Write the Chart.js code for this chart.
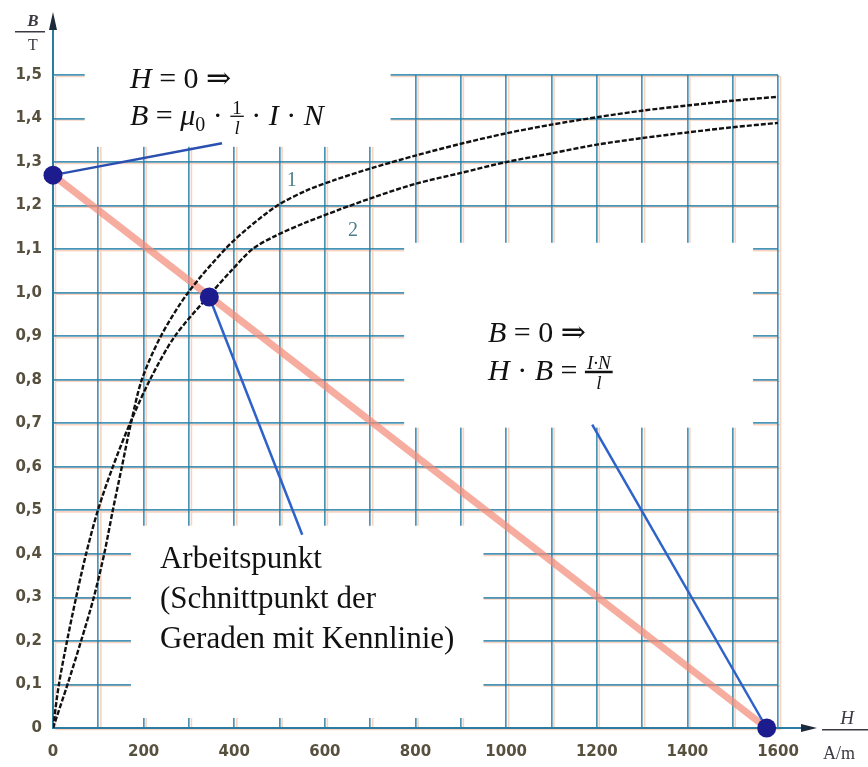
<!DOCTYPE html>
<html>
<head>
<meta charset="utf-8">
<title>B-H Kennlinie mit Arbeitsgerade</title>
<script src="https://cdn.jsdelivr.net/npm/chart.js@4.4.1/dist/chart.umd.min.js"></script>
<style>
  html, body { margin: 0; padding: 0; background: #fff; }
  #chart { display: block; }
</style>
</head>
<body>
<canvas id="chart" width="868" height="767"></canvas>
<script>
// magnetisation curves, H in A/m, B in T
const H_CURVE1 = [0, 32, 62, 90, 113, 132, 152, 172, 196, 238, 298, 380, 432, 495, 560, 625, 700, 800, 900, 1000, 1100, 1200, 1300, 1400, 1500, 1600];
const B_CURVE1 = [0, 0.1, 0.2, 0.3, 0.4, 0.5, 0.6, 0.7, 0.8, 0.9, 1.0, 1.1, 1.15, 1.2, 1.235, 1.26, 1.285, 1.315, 1.342, 1.366, 1.386, 1.403, 1.418, 1.43, 1.441, 1.45];
const H_CURVE2 = [0, 13, 31, 51, 73, 99, 132, 170, 214, 269, 350, 393, 440, 490, 555, 630, 710, 800, 900, 1000, 1100, 1200, 1300, 1400, 1500, 1600];
const B_CURVE2 = [0, 0.1, 0.2, 0.3, 0.4, 0.5, 0.6, 0.7, 0.8, 0.9, 1.0, 1.05, 1.1, 1.13, 1.16, 1.19, 1.22, 1.25, 1.275, 1.3, 1.32, 1.34, 1.355, 1.368, 1.38, 1.39];

// load line (Arbeitsgerade) and its marked points
const LOAD_H = [0, 1575];
const LOAD_B = [1.27, 0];
const POINT_H = [0, 345, 1575];
const POINT_B = [1.27, 0.99, 0];

// pointer lines from the notes to the points
const PTR_TOP_H = [0, 373];
const PTR_TOP_B = [1.27, 1.343];
const PTR_WORK_H = [345, 550];
const PTR_WORK_B = [0.99, 0.444];
const PTR_RIGHT_H = [1190, 1575];
const PTR_RIGHT_B = [0.697, 0];

// tick labels
const X_LABELS = ['0', '200', '400', '600', '800', '1000', '1200', '1400', '1600'];
const Y_LABELS = ['0', '0,1', '0,2', '0,3', '0,4', '0,5', '0,6', '0,7', '0,8', '0,9', '1,0', '1,1', '1,2', '1,3', '1,4', '1,5'];

const SERIF = '"Liberation Serif", "DejaVu Serif", serif';
const GRID = 'rgba(40, 130, 172, 0.85)';
const AXIS = '#2a7da2';
const TICK_COLOR = '#57503f';

const pts = (xs, ys) => xs.map((x, i) => ({ x, y: ys[i] }));

// draws a row of text runs (italic, subscript, small fraction)
function drawRuns(ctx, x, y, parts, size) {
  ctx.textBaseline = 'alphabetic';
  ctx.textAlign = 'left';
  ctx.fillStyle = '#111';
  parts.forEach((p) => {
    if (p.frac) {
      const fs = Math.round(size * 0.62);
      ctx.font = (p.i ? 'italic ' : '') + fs + 'px ' + SERIF;
      const wn = ctx.measureText(p.frac[0]).width;
      ctx.font = 'italic ' + fs + 'px ' + SERIF;
      const wd = ctx.measureText(p.frac[1]).width;
      const w = Math.max(wn, wd) + 4;
      ctx.font = (p.i ? 'italic ' : '') + fs + 'px ' + SERIF;
      ctx.fillText(p.frac[0], x + (w - wn) / 2, y - size * 0.36);
      ctx.font = 'italic ' + fs + 'px ' + SERIF;
      ctx.fillText(p.frac[1], x + (w - wd) / 2, y + size * 0.3);
      ctx.fillRect(x, y - size * 0.3, w, p.bar || 1.3);
      x += w;
      return;
    }
    const s = Math.round(size * (p.s || 1));
    ctx.font = (p.i ? 'italic ' : '') + s + 'px ' + SERIF;
    ctx.fillText(p.t, x, y + (p.dy || 0) * size);
    x += ctx.measureText(p.t).width;
  });
}

const paperPlugin = {
  id: 'paper',
  beforeDraw(chart) {
    // orange misprint of the grid, slightly shifted
    const { ctx, chartArea: a, scales: { x, y } } = chart;
    ctx.save();
    ctx.strokeStyle = 'rgba(245, 155, 115, 0.45)';
    ctx.lineWidth = 1.6;
    ctx.beginPath();
    x.ticks.forEach((t) => {
      const px = x.getPixelForValue(t.value) + 2.5;
      ctx.moveTo(px, a.top + 1.5); ctx.lineTo(px, a.bottom + 1.5);
    });
    y.ticks.forEach((t) => {
      const py = y.getPixelForValue(t.value) + 1.5;
      ctx.moveTo(a.left + 2.5, py); ctx.lineTo(a.right + 2.5, py);
    });
    ctx.stroke();
    ctx.restore();
  },
  beforeDatasetsDraw(chart) {
    // white boxes of the notes laid over the grid
    const { ctx, scales: { x, y } } = chart;
    const boxes = [
      [70, 745, 1.335, 1.62],
      [775, 1545, 0.69, 1.11],
      [172, 950, 0.023, 0.46],
    ];
    ctx.save();
    ctx.fillStyle = '#fff';
    boxes.forEach(([h0, h1, b0, b1]) => {
      const x0 = x.getPixelForValue(h0), x1 = x.getPixelForValue(h1);
      const y0 = y.getPixelForValue(b1), y1 = y.getPixelForValue(b0);
      ctx.fillRect(x0, y0 - 2, x1 - x0, y1 - y0 + 2);
    });
    ctx.restore();
  },
  afterDraw(chart) {
    const { ctx, chartArea: a, scales: { x, y } } = chart;
    const X = (v) => x.getPixelForValue(v);
    const Y = (v) => y.getPixelForValue(v);
    ctx.save();

    // axis arrows
    ctx.strokeStyle = AXIS;
    ctx.lineWidth = 2;
    ctx.beginPath();
    ctx.moveTo(a.left, a.top); ctx.lineTo(a.left, 24);
    ctx.moveTo(a.right, a.bottom); ctx.lineTo(806, a.bottom);
    ctx.stroke();
    ctx.fillStyle = '#1d2a3a';
    ctx.beginPath();
    ctx.moveTo(a.left, 12); ctx.lineTo(a.left - 4, 30); ctx.lineTo(a.left + 4, 30); ctx.closePath();
    ctx.moveTo(817, a.bottom); ctx.lineTo(801, a.bottom - 4); ctx.lineTo(801, a.bottom + 4); ctx.closePath();
    ctx.fill();

    // axis titles
    ctx.fillStyle = '#3b3a44';
    ctx.textAlign = 'center';
    ctx.textBaseline = 'alphabetic';
    ctx.font = 'italic bold 17px ' + SERIF;
    ctx.fillText('B', 33, 26);
    ctx.fillRect(15, 31, 30, 1.5);
    ctx.font = '16px ' + SERIF;
    ctx.fillText('T', 33, 50);
    ctx.font = 'italic 19px ' + SERIF;
    ctx.fillText('H', 847, 724);
    ctx.fillRect(822, a.bottom + 1, 46, 1.5);
    ctx.textAlign = 'left';
    ctx.font = '18px ' + SERIF;
    ctx.fillText('A/m', 823, 759);

    // curve numbers
    ctx.fillStyle = '#4d7d8e';
    ctx.textAlign = 'center';
    ctx.font = '20px ' + SERIF;
    ctx.fillText('1', X(527), Y(1.264) + 8);
    ctx.fillText('2', X(662), Y(1.149) + 8);

    // notes
    const fs = 30;
    drawRuns(ctx, X(170), Y(1.471), [{ t: 'H', i: 1 }, { t: ' = 0 ⇒' }], fs);
    drawRuns(ctx, X(170), Y(1.386), [
      { t: 'B', i: 1 }, { t: ' = ' }, { t: 'μ', i: 1 }, { t: '0', s: 0.68, dy: 0.2 },
      { t: ' · ' }, { frac: ['1', 'l'] }, { t: ' · ' }, { t: 'I', i: 1 }, { t: ' · ' }, { t: 'N', i: 1 },
    ], fs);
    drawRuns(ctx, X(960), Y(0.887), [{ t: 'B', i: 1 }, { t: ' = 0 ⇒' }], fs);
    drawRuns(ctx, X(960), Y(0.80), [
      { t: 'H', i: 1 }, { t: ' · ' }, { t: 'B', i: 1 }, { t: ' = ' }, { frac: ['I·N', 'l'], i: 1, bar: 2.5 },
    ], fs);
    drawRuns(ctx, X(236), Y(0.368), [{ t: 'Arbeitspunkt' }], 31);
    drawRuns(ctx, X(236), Y(0.276), [{ t: '(Schnittpunkt der' }], 31);
    drawRuns(ctx, X(236), Y(0.184), [{ t: 'Geraden mit Kennlinie)' }], 31);

    ctx.restore();
  },
};

const ctx = document.getElementById('chart').getContext('2d');
new Chart(ctx, {
  type: 'line',
  data: {
    datasets: [
      {
        label: 'Punkte',
        data: pts(POINT_H, POINT_B),
        showLine: false,
        pointRadius: 9.5,
        pointBackgroundColor: '#1c1c8e',
        pointBorderWidth: 0,
        clip: false,
        order: 0,
      },
      {
        label: 'Zeiger oben',
        data: pts(PTR_TOP_H, PTR_TOP_B),
        borderColor: '#2a4fb0',
        borderWidth: 2.5,
        clip: false,
        order: 1,
      },
      {
        label: 'Zeiger Arbeitspunkt',
        data: pts(PTR_WORK_H, PTR_WORK_B),
        borderColor: '#2f62c8',
        borderWidth: 2.5,
        clip: false,
        order: 1,
      },
      {
        label: 'Zeiger rechts',
        data: pts(PTR_RIGHT_H, PTR_RIGHT_B),
        borderColor: '#2f62c8',
        borderWidth: 2.5,
        clip: false,
        order: 1,
      },
      {
        label: 'Kennlinie 1',
        data: pts(H_CURVE1, B_CURVE1),
        borderColor: '#111',
        borderWidth: 2.4,
        borderDash: [5, 2],
        tension: 0.3,
        order: 2,
      },
      {
        label: 'Kennlinie 2',
        data: pts(H_CURVE2, B_CURVE2),
        borderColor: '#111',
        borderWidth: 2.4,
        borderDash: [5, 2],
        tension: 0.3,
        order: 2,
      },
      {
        label: 'Arbeitsgerade',
        data: pts(LOAD_H, LOAD_B),
        borderColor: 'rgba(242, 140, 120, 0.72)',
        borderWidth: 7,
        clip: false,
        order: 3,
      },
    ],
  },
  options: {
    responsive: false,
    animation: false,
    devicePixelRatio: 1,
    layout: { padding: { top: 75, right: 90, left: 0, bottom: 0 } },
    elements: { point: { radius: 0 } },
    plugins: { legend: { display: false }, tooltip: { enabled: false } },
    scales: {
      x: {
        type: 'linear',
        min: 0,
        max: 1600,
        afterFit: (s) => { s.height = 39; },
        ticks: {
          stepSize: 100,
          autoSkip: false,
          maxRotation: 0,
          padding: 15,
          color: TICK_COLOR,
          font: { family: '"DejaVu Sans"', size: 15, weight: 'bold' },
          callback: (v) => (v % 200 === 0 ? X_LABELS[v / 200] : ''),
        },
        grid: { color: GRID, lineWidth: 1.7, drawTicks: false },
        border: { color: AXIS, width: 2 },
      },
      y: {
        min: 0,
        max: 1.5,
        afterFit: (s) => { s.width = 53; },
        ticks: {
          stepSize: 0.1,
          autoSkip: false,
          padding: 11,
          color: TICK_COLOR,
          font: { family: '"DejaVu Sans"', size: 15, weight: 'bold' },
          callback: (v) => Y_LABELS[Math.round(v * 10)],
        },
        grid: { color: GRID, lineWidth: 1.7, drawTicks: false },
        border: { color: AXIS, width: 2 },
      },
    },
  },
  plugins: [paperPlugin],
});
</script>
</body>
</html>
